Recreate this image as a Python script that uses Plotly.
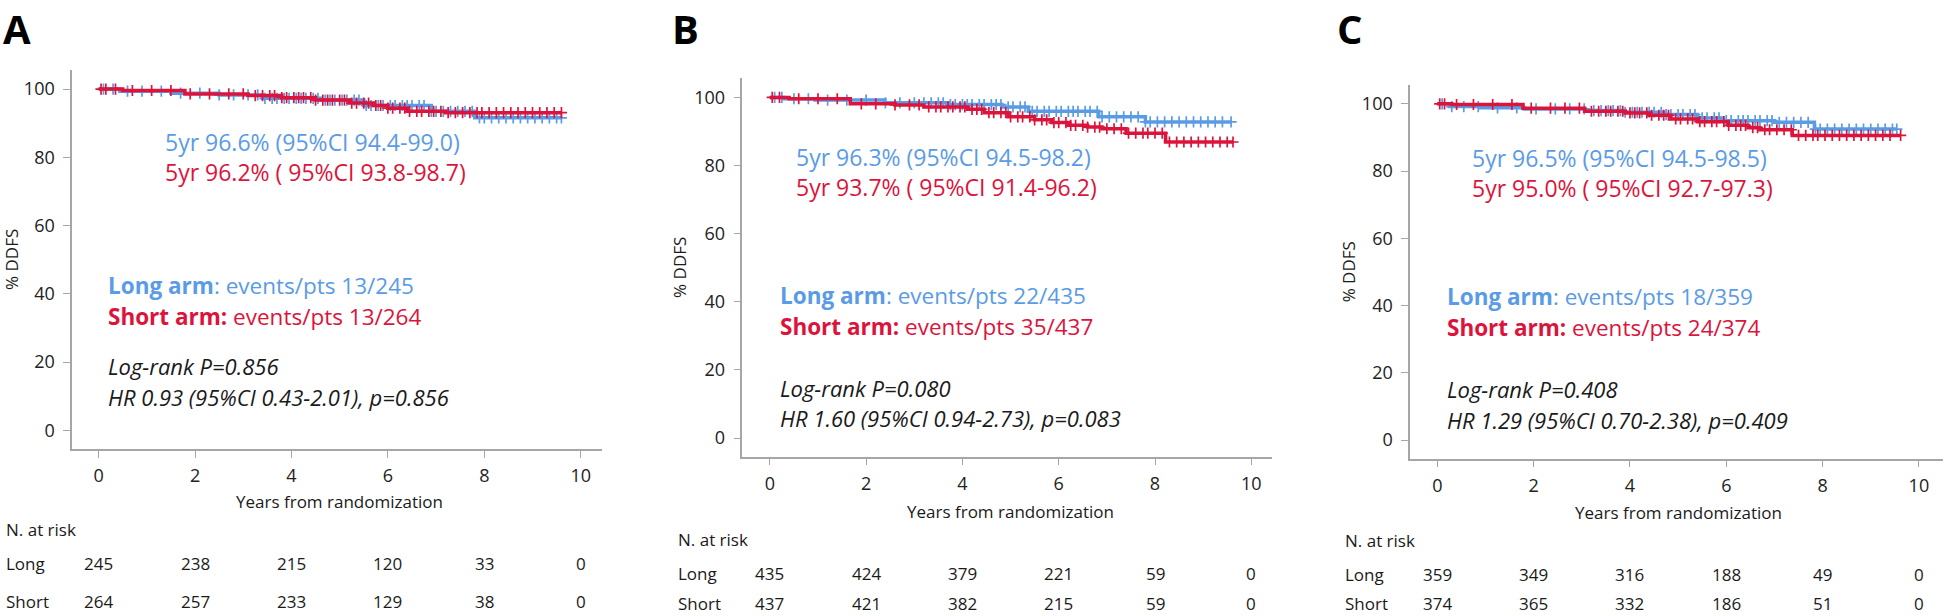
import plotly.graph_objects as go

W, H = 1946, 616
BLUE = '#5A9BE6'
RED = '#DC143C'
FONT = 'Open Sans'

x_ticks = [0, 2, 4, 6, 8, 10]
y_ticks = [0, 20, 40, 60, 80, 100]

# ---- panel A ----
a_long_t = [0, 0.44, 1.5, 2.5, 3.4, 4.6, 5.5, 6.9, 7.8, 9.6]
a_long_s = [100, 99.4, 98.8, 98.3, 97.3, 96.8, 95.2, 93.5, 91.6, 91.6]
a_short_t = [0, 0.5, 1.79, 3.1, 3.8, 4.5, 5.2, 5.7, 6.0, 6.4, 7.2, 9.6]
a_short_s = [100, 99.6, 98.6, 98.1, 97.5, 96.8, 95.9, 95.2, 94.4, 93.5, 93.1, 93.1]
a_long_cens = [0.1, 0.3, 0.6, 0.9, 1.3, 1.7, 2.1, 2.5, 2.8, 3.1, 3.3, 3.45, 3.6, 3.7, 3.85,
               3.95, 4.1, 4.2, 4.3, 4.45, 4.55, 4.7, 4.8, 4.9, 5.05, 5.15, 5.3, 5.4, 5.55,
               5.65, 5.8, 5.9, 6.05, 6.15, 6.3, 6.4, 6.5, 6.65, 6.75, 6.9, 7.0, 7.15, 7.3,
               7.45, 7.6, 7.75, 7.9, 8.0, 8.15, 8.3, 8.45, 8.6, 8.75, 8.9, 9.05, 9.2, 9.35,
               9.5, 9.6]
a_short_cens = [0.05, 0.15, 0.35, 0.7, 1.1, 1.5, 1.9, 2.3, 2.7, 3.0, 3.25, 3.4, 3.55, 3.65,
                3.8, 3.9, 4.05, 4.15, 4.25, 4.4, 4.5, 4.65, 4.75, 4.85, 5.0, 5.1, 5.25,
                5.35, 5.5, 5.6, 5.75, 5.85, 6.0, 6.1, 6.25, 6.35, 6.45, 6.6, 6.7, 6.85,
                6.95, 7.1, 7.25, 7.4, 7.55, 7.7, 7.85, 7.95, 8.1, 8.25, 8.4, 8.55, 8.7,
                8.85, 9.0, 9.15, 9.3, 9.45, 9.6]
a_risk_long = [245, 238, 215, 120, 33, 0]
a_risk_short = [264, 257, 233, 129, 38, 0]

# ---- panel B ----
b_long_t = [0, 0.3, 0.94, 2.39, 3.71, 4.82, 5.37, 6.83, 7.8, 9.58]
b_long_s = [100, 99.6, 99.2, 98.4, 97.9, 97.2, 95.9, 94.3, 92.8, 92.8]
b_short_t = [0, 0.4, 1.67, 2.6, 3.2, 4.1, 4.45, 4.95, 5.5, 5.85, 6.2, 6.6, 6.9, 7.4, 8.22, 9.62]
b_short_s = [100, 99.6, 98.1, 97.8, 97.2, 96.5, 95.5, 94.3, 93.4, 92.6, 91.8, 91.3, 90.8, 89.5, 86.9, 86.9]
b_long_cens = [0.1, 0.25, 0.5, 0.8, 1.2, 1.6, 2.0, 2.4, 2.7, 3.0, 3.2, 3.35, 3.5, 3.6, 3.75,
               3.85, 4.0, 4.1, 4.2, 4.35, 4.45, 4.6, 4.7, 4.8, 4.95, 5.05, 5.2, 5.3, 5.45,
               5.55, 5.7, 5.8, 5.95, 6.05, 6.2, 6.3, 6.4, 6.55, 6.65, 6.8, 6.9, 7.05, 7.2,
               7.35, 7.5, 7.65, 7.8, 7.9, 8.05, 8.2, 8.35, 8.5, 8.65, 8.8, 8.95, 9.1, 9.25,
               9.4, 9.58]
b_short_cens = [0.05, 0.2, 0.6, 1.0, 1.4, 1.9, 2.2, 2.6, 2.9, 3.1, 3.3, 3.45, 3.55, 3.7,
                3.8, 3.95, 4.05, 4.2, 4.3, 4.4, 4.55, 4.65, 4.8, 4.9, 5.0, 5.15, 5.25,
                5.4, 5.5, 5.65, 5.75, 5.9, 6.0, 6.15, 6.25, 6.35, 6.5, 6.6, 6.75, 6.85,
                7.0, 7.15, 7.3, 7.45, 7.6, 7.75, 7.85, 8.0, 8.15, 8.3, 8.45, 8.6, 8.75,
                8.9, 9.05, 9.2, 9.35, 9.5, 9.62]
b_risk_long = [435, 424, 379, 221, 59, 0]
b_risk_short = [437, 421, 382, 215, 59, 0]

# ---- panel C ----
c_long_t = [0, 0.25, 0.9, 1.8, 3.06, 3.9, 4.7, 5.4, 5.9, 7.0, 7.83, 9.54]
c_long_s = [100, 99.2, 98.8, 98.5, 98.0, 97.5, 96.8, 95.8, 95.0, 94.5, 92.5, 92.5]
c_short_t = [0, 0.3, 1.78, 3.06, 3.9, 4.4, 4.85, 5.4, 6.04, 6.45, 6.7, 7.37, 9.62]
c_short_s = [100, 99.8, 98.7, 97.8, 97.3, 96.6, 95.5, 94.7, 93.6, 92.9, 92.3, 90.6, 90.6]
c_long_cens = [0.1, 0.3, 0.55, 0.85, 1.25, 1.65, 2.05, 2.45, 2.75, 3.05, 3.25, 3.4, 3.55,
               3.65, 3.8, 3.9, 4.05, 4.15, 4.25, 4.4, 4.5, 4.65, 4.75, 4.85, 5.0, 5.1,
               5.25, 5.35, 5.5, 5.6, 5.75, 5.85, 6.0, 6.1, 6.25, 6.35, 6.45, 6.6, 6.7,
               6.85, 6.95, 7.1, 7.25, 7.4, 7.55, 7.7, 7.85, 7.95, 8.1, 8.25, 8.4, 8.55,
               8.7, 8.85, 9.0, 9.15, 9.3, 9.45, 9.54]
c_short_cens = [0.05, 0.15, 0.4, 0.75, 1.15, 1.55, 1.95, 2.35, 2.65, 2.95, 3.2, 3.35, 3.5,
                3.6, 3.75, 3.85, 4.0, 4.1, 4.2, 4.35, 4.45, 4.6, 4.7, 4.8, 4.95, 5.05,
                5.2, 5.3, 5.45, 5.55, 5.7, 5.8, 5.95, 6.05, 6.2, 6.3, 6.4, 6.55, 6.65,
                6.8, 6.9, 7.05, 7.2, 7.35, 7.5, 7.65, 7.8, 7.9, 8.05, 8.2, 8.35, 8.5,
                8.65, 8.8, 8.95, 9.1, 9.25, 9.4, 9.62]
c_risk_long = [359, 349, 316, 188, 49, 0]
c_risk_short = [374, 365, 332, 186, 51, 0]

panels = [
    dict(letter='A', lx=2, ax='', xdom=(72.1, 602.4), xr=[-0.55, 10.45], ydom=(70, 449),
         long=(a_long_t, a_long_s, a_long_cens), short=(a_short_t, a_short_s, a_short_cens),
         five=('5yr 96.6% (95%CI 94.4-99.0)', '5yr 96.2% ( 95%CI 93.8-98.7)'), five_x=163.8, five_y=(141.7, 171.7),
         arms=('13/245', '13/264'), txt_x=107, txt_y=(285.7, 316.7, 366, 396.7),
         stats=('Log-rank P=0.856', 'HR 0.93 (95%CI 0.43-2.01), p=0.856'),
         ytitle_x=11.5, title_y=501.7, risk_x=5, risk_y=(529, 563, 601.7),
         risk=(a_risk_long, a_risk_short)),
    dict(letter='B', lx=671, ax='2', xdom=(742.4, 1272), xr=[-0.57, 10.43], ydom=(78.3, 456.7),
         long=(b_long_t, b_long_s, b_long_cens), short=(b_short_t, b_short_s, b_short_cens),
         five=('5yr 96.3% (95%CI 94.5-98.2)', '5yr 93.7% ( 95%CI 91.4-96.2)'), five_x=794.6, five_y=(156.7, 186.7),
         arms=('22/435', '35/437'), txt_x=778.9, txt_y=(295, 326, 388.3, 418.3),
         stats=('Log-rank P=0.080', 'HR 1.60 (95%CI 0.94-2.73), p=0.083'),
         ytitle_x=679.4, title_y=511.7, risk_x=677.3, risk_y=(539, 573.3, 603.5),
         risk=(b_risk_long, b_risk_short)),
    dict(letter='C', lx=1336, ax='3', xdom=(1410.1, 1943), xr=[-0.565, 10.5], ydom=(85, 458.5),
         long=(c_long_t, c_long_s, c_long_cens), short=(c_short_t, c_short_s, c_short_cens),
         five=('5yr 96.5% (95%CI 94.5-98.5)', '5yr 95.0% ( 95%CI 92.7-97.3)'), five_x=1470.8, five_y=(158.3, 188.3),
         arms=('18/359', '24/374'), txt_x=1446, txt_y=(296, 327.3, 389.3, 420),
         stats=('Log-rank P=0.408', 'HR 1.29 (95%CI 0.70-2.38), p=0.409'),
         ytitle_x=1348.6, title_y=512.3, risk_x=1344.4, risk_y=(540, 574.3, 603.5),
         risk=(c_risk_long, c_risk_short)),
]


def step_value(ts, ss, t):
    v = ss[0]
    for ti, si in zip(ts, ss):
        if ti <= t:
            v = si
    return v


def px(x):
    return x / W


def py(y):
    return 1 - y / H


fig = go.Figure()
annotations = []


def text(x, y, s, color='#1a1a1a', size=22, anchor='left', ref='paper', angle=0, yanchor='middle'):
    annotations.append(dict(x=x, y=y, xref=ref, yref='paper', text=s, showarrow=False,
                            xanchor=anchor, yanchor=yanchor, textangle=angle, borderpad=0,
                            font=dict(family=FONT, size=size, color=color)))


for p in panels:
    xa, ya = 'x' + p['ax'], 'y' + p['ax']
    for (ts, ss, cens), col in [(p['long'], BLUE), (p['short'], RED)]:
        fig.add_trace(go.Scatter(x=ts, y=ss, mode='lines', line=dict(color=col, width=3.5, shape='hv'),
                                 xaxis=xa, yaxis=ya, showlegend=False, hoverinfo='skip'))
        fig.add_trace(go.Scatter(x=cens, y=[step_value(ts, ss, c) for c in cens], mode='markers',
                                 marker=dict(symbol='cross-thin', size=8, line=dict(color=col, width=1.7)),
                                 xaxis=xa, yaxis=ya, showlegend=False, hoverinfo='skip'))

    axis_style = dict(showline=True, linecolor='#a6a6a6', linewidth=1.5, ticks='outside', ticklen=7,
                      tickcolor='#a6a6a6', tickwidth=1.2, showgrid=False, zeroline=False,
                      tickfont=dict(family=FONT, size=18, color='#222'))
    fig.update_layout(**{
        'xaxis' + p['ax']: dict(domain=[px(p['xdom'][0]), px(p['xdom'][1])], range=p['xr'],
                                tickvals=x_ticks, anchor=ya, ticklabelstandoff=3, **axis_style),
        'yaxis' + p['ax']: dict(domain=[py(p['ydom'][1]), py(p['ydom'][0])], range=[-5.45, 105.6],
                                tickvals=y_ticks, anchor=xa, ticklabelstandoff=5, **axis_style),
    })

    text(px(p['lx']), 1, '<b>' + p['letter'] + '</b>', color='#000', size=40, yanchor='top')
    text(px(p['five_x']), py(p['five_y'][0]), p['five'][0], color=BLUE, size=23)
    text(px(p['five_x']), py(p['five_y'][1]), p['five'][1], color=RED, size=23)
    text(px(p['txt_x']), py(p['txt_y'][0]), '<b>Long arm</b>: events/pts ' + p['arms'][0], color=BLUE, size=22.5)
    text(px(p['txt_x']), py(p['txt_y'][1]), '<b>Short arm:</b> events/pts ' + p['arms'][1], color=RED, size=22.5)
    text(px(p['txt_x']), py(p['txt_y'][2]), '<i>' + p['stats'][0] + '</i>')
    text(px(p['txt_x']), py(p['txt_y'][3]), '<i>' + p['stats'][1] + '</i>')

    text(px(p['ytitle_x']), py((p['ydom'][0] + p['ydom'][1]) / 2), '% DDFS', size=17,
         anchor='center', angle=-90)
    text(5, py(p['title_y']), 'Years from randomization', size=17, anchor='center', ref=xa)
    text(px(p['risk_x']), py(p['risk_y'][0]), 'N. at risk', size=17)
    text(px(p['risk_x']), py(p['risk_y'][1]), 'Long', size=17)
    text(px(p['risk_x']), py(p['risk_y'][2]), 'Short', size=17)
    for row, yy in zip(p['risk'], p['risk_y'][1:]):
        for xv, n in zip(x_ticks, row):
            text(xv, py(yy), str(n), size=17, anchor='center', ref=xa)

fig.update_layout(width=W, height=H, margin=dict(l=0, r=0, t=0, b=0),
                  paper_bgcolor='white', plot_bgcolor='white', annotations=annotations,
                  font=dict(family=FONT))
# the page body has a default 8px margin; drop it so the figure sits at the window corner
fig.write_html("out.html", config={'displayModeBar': False},
               post_script="document.body.style.margin='0';document.body.style.overflow='hidden';")
